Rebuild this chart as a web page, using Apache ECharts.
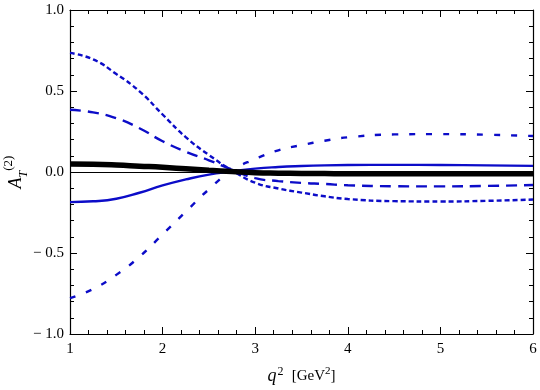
<!DOCTYPE html>
<html>
<head>
<meta charset="utf-8">
<script src="https://cdn.jsdelivr.net/npm/echarts@6/dist/echarts.min.js"></script>
<style>
  html, body { margin: 0; padding: 0; background: #fff; }
  #chart { width: 540px; height: 390px; }
</style>
</head>
<body>
<div id="chart"></div>
<script>
    // q^2 sample points (GeV^2)
    var q2 = [1, 1.25, 1.5, 1.75, 2, 2.25, 2.5, 2.75, 3, 3.25, 3.5, 3.75, 4, 4.5, 5, 5.5, 6];

    // curves
    var shortDash = [0.735, 0.695, 0.605, 0.498, 0.355, 0.215, 0.105, 0.01, -0.066, -0.102, -0.127, -0.15, -0.167, -0.18, -0.182, -0.178, -0.17];
    var longDash  = [0.384, 0.368, 0.332, 0.27, 0.19, 0.125, 0.072, 0.015, -0.038, -0.056, -0.067, -0.074, -0.082, -0.088, -0.089, -0.086, -0.08];
    var solidBlue = [-0.186, -0.181, -0.165, -0.128, -0.083, -0.046, -0.016, 0.003, 0.021, 0.031, 0.037, 0.041, 0.043, 0.044, 0.043, 0.041, 0.038];
    var sparseDash = [-0.779, -0.722, -0.635, -0.523, -0.385, -0.245, -0.107, 0.01, 0.08, 0.134, 0.166, 0.193, 0.214, 0.232, 0.234, 0.23, 0.222];
    var thickBlack = [0.05, 0.048, 0.043, 0.036, 0.029, 0.02, 0.011, 0.003, -0.004, -0.007, -0.009, -0.01, -0.011, -0.011, -0.011, -0.011, -0.011];

    var yTicks = [-1, -0.5, 0, 0.5, 1];
    var yTickLabels = ['\u2212 1.0', '\u2212 0.5', '0.0', '0.5', '1.0'];
    var xTicks = [1, 2, 3, 4, 5, 6];
    var xTickLabels = ['1', '2', '3', '4', '5', '6'];

    function pairs(ys) {
        return q2.map(function (x, i) { return [x, ys[i]]; });
    }
    function yLabel(v) {
        var i = yTicks.indexOf(Math.round(v * 10) / 10);
        return i >= 0 ? yTickLabels[i] : '';
    }
    function xLabel(v) {
        var i = xTicks.indexOf(Math.round(v));
        return i >= 0 ? xTickLabels[i] : '';
    }

    var FONT = 'Liberation Serif';
    var BLUE = '#0c0cc8';

    var frameTick = { show: true, inside: true, length: 7, lineStyle: { color: '#000', width: 1 } };
    var frameMinor = { show: true, splitNumber: 5, length: 4, lineStyle: { color: '#000', width: 1 } };
    var frameLine = { show: true, onZero: false, lineStyle: { color: '#000', width: 1.2 } };

    function curve(ys, color, width, dash) {
        return {
            type: 'line',
            data: pairs(ys),
            smooth: 0.5,
            symbol: 'none',
            silent: true,
            lineStyle: { color: color, width: width, type: dash || 'solid' }
        };
    }

    var chart = echarts.init(document.getElementById('chart'));
    var series = [
        curve(shortDash, BLUE, 2.4, [5, 3]),
        curve(longDash, BLUE, 2.4, [11, 7]),
        curve(solidBlue, BLUE, 2.4),
        curve(sparseDash, BLUE, 2.4, [6, 11]),
        curve(thickBlack, '#000', 5.5)
    ];
    // thin zero line
    series[0].markLine = {
        silent: true,
        symbol: 'none',
        label: { show: false },
        lineStyle: { color: '#000', width: 1, type: 'solid' },
        data: [{ yAxis: 0 }]
    };

    chart.setOption({
        animation: false,
        grid: { left: 70, right: 7, top: 10, bottom: 56, outerBoundsMode: 'none', containLabel: false },
        xAxis: [
            {
                type: 'value', min: 1, max: 6, interval: 1, position: 'bottom',
                axisLine: frameLine, axisTick: frameTick, minorTick: frameMinor,
                splitLine: { show: false },
                axisLabel: { formatter: xLabel, color: '#000', fontFamily: FONT, fontSize: 15, margin: 8 },
                name: '{q|q}{sup|2} {t|[GeV}{s2|2}{t|]}',
                nameLocation: 'middle', nameGap: 32, nameMoveOverlap: false,
                nameTextStyle: {
                    rich: {
                        q: { fontFamily: FONT, fontStyle: 'italic', fontSize: 18, color: '#000', lineHeight: 20 },
                        sup: { fontFamily: FONT, fontSize: 12, color: '#000', verticalAlign: 'top', padding: [0, 5, 0, 1] },
                        t: { fontFamily: FONT, fontSize: 15, color: '#000', lineHeight: 20 },
                        s2: { fontFamily: FONT, fontSize: 11, color: '#000', verticalAlign: 'top' }
                    }
                }
            },
            {
                type: 'value', min: 1, max: 6, interval: 1, position: 'top',
                axisLine: frameLine, axisTick: frameTick, minorTick: frameMinor,
                splitLine: { show: false }, axisLabel: { show: false }
            }
        ],
        yAxis: [
            {
                type: 'value', min: -1, max: 1, interval: 0.5, position: 'left',
                axisLine: frameLine, axisTick: frameTick, minorTick: frameMinor,
                splitLine: { show: false },
                axisLabel: { formatter: yLabel, color: '#000', fontFamily: FONT, fontSize: 15, margin: 6 },
                name: '{a|A}{sub|T}{sup|(2)}',
                nameLocation: 'middle', nameRotate: 90, nameGap: 40, nameMoveOverlap: false,
                nameTextStyle: {
                    rich: {
                        a: { fontFamily: FONT, fontStyle: 'italic', fontSize: 18, color: '#000', lineHeight: 28 },
                        sub: { fontFamily: FONT, fontStyle: 'italic', fontSize: 12, color: '#000', verticalAlign: 'bottom' },
                        sup: { fontFamily: FONT, fontSize: 13, color: '#000', verticalAlign: 'top' }
                    }
                }
            },
            {
                type: 'value', min: -1, max: 1, interval: 0.5, position: 'right',
                axisLine: frameLine, axisTick: frameTick, minorTick: frameMinor,
                splitLine: { show: false }, axisLabel: { show: false }
            }
        ],
        series: series
    });
</script>
</body>
</html>
